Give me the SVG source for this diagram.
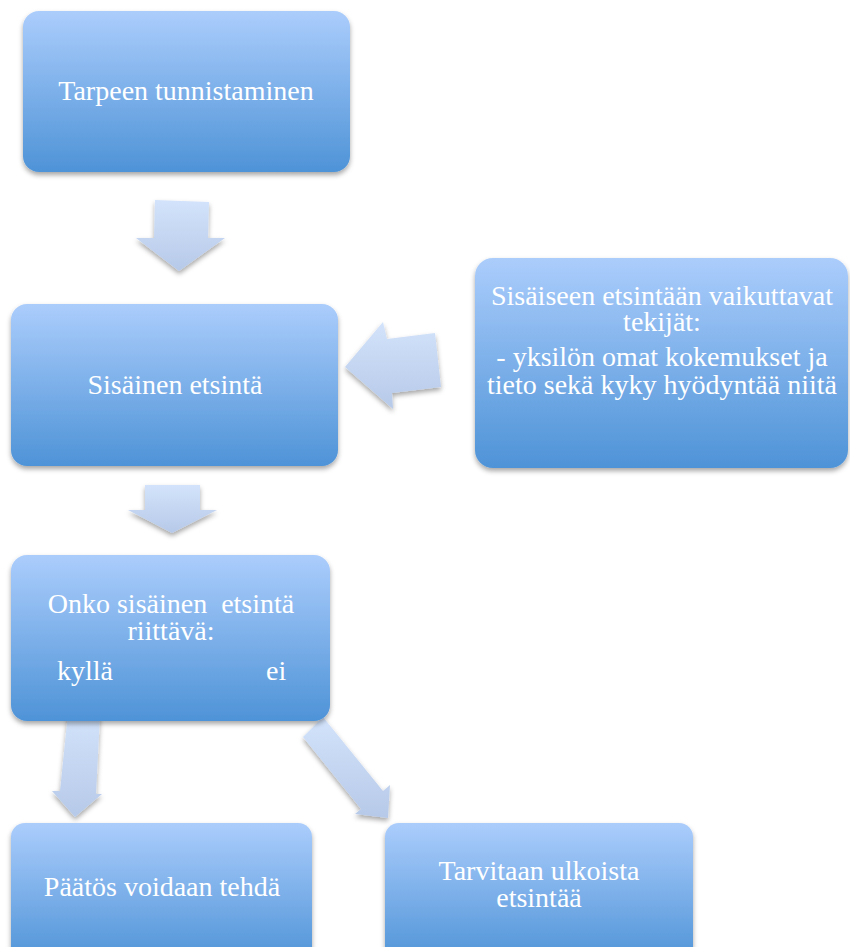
<svg xmlns="http://www.w3.org/2000/svg" width="850" height="947" viewBox="0 0 850 947">
  <defs>
    <linearGradient id="boxGrad" x1="0" y1="0" x2="0" y2="1">
      <stop offset="0" stop-color="#abcdfc"/>
      <stop offset="1" stop-color="#4e93d7"/>
    </linearGradient>
    <linearGradient id="arrGrad" x1="0" y1="0" x2="0" y2="1">
      <stop offset="0" stop-color="#d3e3fb"/>
      <stop offset="1" stop-color="#b6c9e8"/>
    </linearGradient>
    <filter id="shadow" x="-10%" y="-10%" width="120%" height="130%">
      <feDropShadow dx="0" dy="3" stdDeviation="2.5" flood-color="#000" flood-opacity="0.35"/>
    </filter>
    <style>
      .box { fill: url(#boxGrad); filter: url(#shadow); }
      .arr { fill: url(#arrGrad); filter: url(#shadow); }
      .t { font-family: "Liberation Serif", "DejaVu Serif", serif; font-size: 28px; fill: #ffffff; text-anchor: middle; }
      .tl { font-family: "Liberation Serif", "DejaVu Serif", serif; font-size: 28px; fill: #ffffff; }
    </style>
  </defs>

  <g id="connectors">
    <polygon class="arr" points="155,200 209,202 208,238 225,238 179,271 136,238 154,238"/>
    <polygon class="arr" points="345,367 383,322 387,339 435,333 441,387 392,393 393,409"/>
    <polygon class="arr" points="145,485 200,485 200,510 217,510 172,533 128,510 145,510"/>
    <polygon class="arr" points="68,713 100,715 96,794 102,794 75,817 52,791 60,791"/>
    <polygon class="arr" points="323,717 383,791 390,785 388,818 355,814 361,809 303,737"/>
  </g>

  <g id="node-tarpeen">
    <rect class="box" x="23" y="11" width="327" height="161" rx="16" ry="16"/>
    <text class="t" x="186" y="100">Tarpeen tunnistaminen</text>
  </g>

  <g id="node-sisainen">
    <rect class="box" x="11" y="304" width="327" height="162" rx="16" ry="16"/>
    <text class="t" x="175" y="394">Sisäinen etsintä</text>
  </g>

  <g id="node-tekijat">
    <rect class="box" x="475" y="258" width="373" height="210" rx="18" ry="18"/>
    <text class="t" x="662" y="305">Sisäiseen etsintään vaikuttavat</text>
    <text class="t" x="662" y="331">tekijät:</text>
    <text class="t" x="662" y="366">- yksilön omat kokemukset ja</text>
    <text class="t" x="662" y="394">tieto sekä kyky hyödyntää niitä</text>
  </g>

  <g id="node-riittava">
    <rect class="box" x="11" y="555" width="319" height="166" rx="16" ry="16"/>
    <text class="t" x="171" y="613" xml:space="preserve">Onko sisäinen  etsintä</text>
    <text class="t" x="171" y="640">riittävä:</text>
    <text class="tl" x="57" y="680">kyllä</text>
    <text class="tl" x="266" y="680">ei</text>
  </g>

  <g id="node-paatos">
    <rect class="box" x="11" y="823" width="301" height="140" rx="14" ry="14"/>
    <text class="t" x="162" y="896">Päätös voidaan tehdä</text>
  </g>

  <g id="node-ulkoista">
    <rect class="box" x="385" y="823" width="308" height="140" rx="14" ry="14"/>
    <text class="t" x="539" y="880">Tarvitaan ulkoista</text>
    <text class="t" x="539" y="907">etsintää</text>
  </g>
</svg>
